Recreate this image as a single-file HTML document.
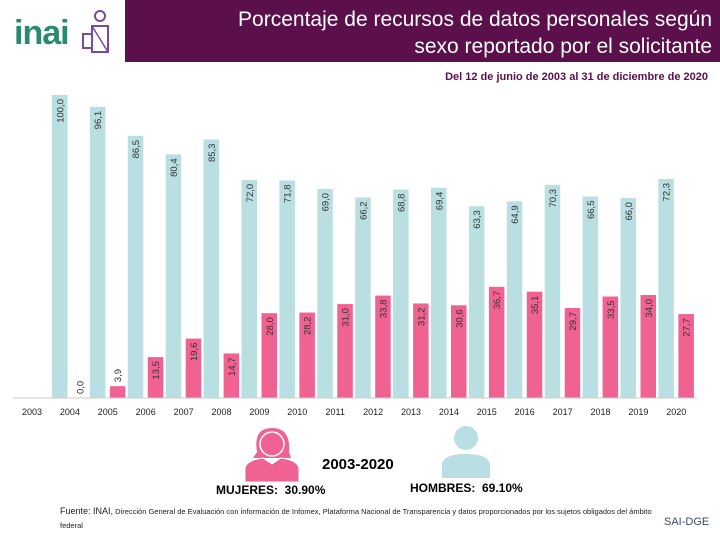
<!DOCTYPE html>
<html><head><meta charset="utf-8"><style>
body{margin:0;width:720px;height:540px;background:#fff;position:relative;overflow:hidden;font-family:"Liberation Sans",sans-serif}
.abs{position:absolute}
</style></head><body>
<div class="abs" style="left:14px;top:14px;font-size:34px;font-weight:bold;color:#2a8a6e;letter-spacing:-1px">inai</div>
<svg class="abs" style="left:80px;top:8px" width="36" height="50" viewBox="0 0 36 50">
<circle cx="20" cy="8" r="5" fill="none" stroke="#7a4b9a" stroke-width="2"/>
<rect x="12" y="18" width="16" height="26" fill="none" stroke="#7a4b9a" stroke-width="2"/>
<rect x="3" y="26" width="9" height="14" fill="none" stroke="#7a4b9a" stroke-width="2"/>
<line x1="12" y1="18" x2="28" y2="44" stroke="#7a4b9a" stroke-width="1.5"/></svg>
<div class="abs" style="left:125px;top:0;width:595px;height:62px;background:#5b0f4b"></div>
<div class="abs" style="right:8px;top:6px;width:590px;text-align:right;color:#fff;font-size:21px;line-height:27px;white-space:nowrap">Porcentaje de recursos de datos personales según<br>sexo reportado por el solicitante</div>
<div class="abs" style="right:12px;top:71px;color:#5b0f4b;font-size:11px;font-weight:bold">Del 12 de junio de 2003 al 31 de diciembre de 2020</div>
<svg id="chart" class="abs" style="left:0;top:0" width="720" height="420"></svg>
<svg class="abs" style="left:243px;top:424px" width="58" height="58" viewBox="0 0 58 58">
<path d="M14 28 Q10 4 29 4 Q48 4 46 28 L48 34 L10 34 Z" fill="#f06292"/>
<circle cx="29" cy="20" r="12" fill="#f06292" stroke="#fff" stroke-width="1.5"/>
<path d="M2 58 L2 44 Q4 36 20 34 L29 40 L38 34 Q54 36 56 44 L56 58 Z" fill="#f06292" stroke="#fff" stroke-width="1"/></svg>
<svg class="abs" style="left:440px;top:424px" width="52" height="54" viewBox="0 0 52 54">
<circle cx="26" cy="14" r="12" fill="#b9dfe2"/>
<path d="M2 54 L2 40 Q4 30 26 30 Q48 30 50 40 L50 54 Z" fill="#b9dfe2"/></svg>
<div class="abs" style="left:322px;top:456px;font-size:15px;font-weight:bold">2003-2020</div>
<div class="abs" style="left:216px;top:483px;font-size:12px;font-weight:bold">MUJERES: &nbsp;30.90%</div>
<div class="abs" style="left:410px;top:481px;font-size:12px;font-weight:bold">HOMBRES: &nbsp;69.10%</div>
<div class="abs" style="left:60px;top:504px;width:600px;font-size:7.5px;line-height:14px;color:#222"><span style="font-size:9px">Fuente: INAI,</span> Dirección General de Evaluación con información de Infomex, Plataforma Nacional de Transparencia y datos proporcionados por los sujetos obligados del ámbito federal</div>
<div class="abs" style="left:664px;top:516px;font-size:11px;color:#3a4a70">SAI-DGE</div>
<script>
const years=["2003","2004","2005","2006","2007","2008","2009","2010","2011","2012","2013","2014","2015","2016","2017","2018","2019","2020"];
const hombres=[100.0,96.1,86.5,80.4,85.3,72.0,71.8,69.0,66.2,68.8,69.4,63.3,64.9,70.3,66.5,66.0,72.3];
const mujeres=[0.0,3.9,13.5,19.6,14.7,28.0,28.2,31.0,33.8,31.2,30.6,36.7,35.1,29.7,33.5,34.0,27.7];
const svg=document.getElementById('chart');const NS='http://www.w3.org/2000/svg';
const base=398,scale=3.03,pitch=37.9,w=15.5;
const y=v=>base-v*scale;
const xB=i=>52+i*pitch, xP=i=>72+i*pitch, xY=i=>32+i*pitch;
function el(t,a){const e=document.createElementNS(NS,t);for(const k in a)e.setAttribute(k,a[k]);svg.appendChild(e);return e;}
function fmt(v){return v.toFixed(1).replace('.',',');}
function bar(x,v,fill,name,inside){
 const r=el('rect',{x:x,y:y(v),width:w,height:v*scale,fill:fill});
 
 
 const cx=x+w/2+3.5,ty=inside?y(v)+4:y(v)-4;
 const t=el('text',{x:0,y:0,transform:`translate(${cx},${ty}) rotate(-90)`,'text-anchor':inside?'end':'start','font-size':'9.5','fill':'#333','font-family':'Liberation Sans, sans-serif'});
 t.textContent=fmt(v);
 
 
}
hombres.forEach((v,i)=>bar(xB(i),v,'#b9dfe2','bar-hombres-'+i,true));
mujeres.forEach((v,i)=>bar(xP(i),v,'#f06292','bar-mujeres-'+i,v>8));
const ax=el('line',{x1:13,x2:697,y1:base,y2:base,stroke:'#ccc','stroke-width':1});


years.forEach((s,i)=>{const t=el('text',{x:xY(i),y:base+17,'text-anchor':'middle','font-size':'9','fill':'#222','font-family':'Liberation Sans, sans-serif'});t.textContent=s;

});
</script>
</body></html>
